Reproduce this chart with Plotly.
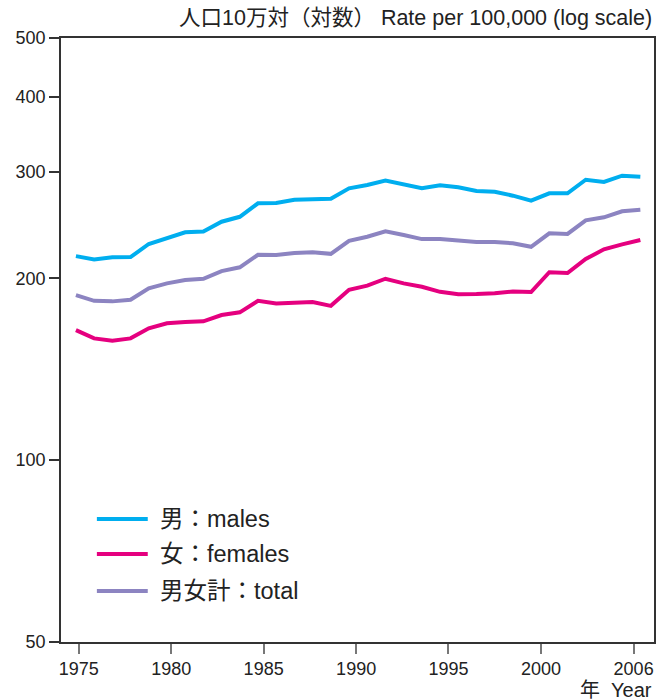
import plotly.graph_objects as go

years = list(range(1975, 2007))

males = [217.7, 215.0, 216.7, 216.9, 228.0, 233.0, 238.4, 239.2, 248.2, 252.9,
         266.2, 266.5, 269.9, 270.3, 270.9, 281.9, 285.5, 290.3, 286.3, 281.9,
         285.2, 283.0, 279.1, 278.3, 274.1, 268.9, 276.6, 276.6, 291.3, 288.8,
         295.8, 294.7]

females = [164.2, 159.1, 157.6, 159.1, 165.3, 168.5, 169.4, 169.8, 173.9, 175.7,
           183.6, 181.8, 182.2, 182.7, 180.1, 191.5, 194.5, 199.7, 196.2, 193.7,
           190.0, 188.2, 188.4, 188.9, 190.3, 189.8, 204.7, 204.1, 215.3, 223.4,
           227.7, 231.5]

total = [187.6, 183.6, 183.2, 184.3, 192.5, 196.2, 198.7, 199.7, 205.6, 208.6,
         218.8, 218.6, 220.3, 220.9, 219.6, 230.8, 234.4, 239.2, 235.9, 232.3,
         232.3, 230.8, 229.7, 229.7, 228.6, 225.6, 237.5, 236.9, 249.5, 252.4,
         258.3, 259.8]

series_names = ["男：males", "女：females", "男女計：total"]
series_colors = ["#00AEEF", "#E5007F", "#8C84C1"]

x_tick_labels = ["1975", "1980", "1985", "1990", "1995", "2000", "2006"]
x_tick_positions = [1975.16, 1980.24, 1985.31, 1990.39, 1995.46, 2000.54, 2005.63]
y_tick_values = [50, 100, 200, 300, 400, 500]

FONT = "Liberation Sans, Arial, Noto Sans CJK JP, sans-serif"

fig = go.Figure()
for name, vals, col in zip(series_names, [males, females, total], series_colors):
    fig.add_trace(go.Scatter(x=years, y=vals, mode="lines", name=name,
                             line=dict(color=col, width=4), showlegend=False))

# manual legend
leg_y = [0.2036, 0.1457, 0.0844]
for name, col, yy in zip(series_names, series_colors, leg_y):
    fig.add_shape(type="line", xref="paper", yref="paper",
                  x0=0.0605, x1=0.1463, y0=yy, y1=yy,
                  line=dict(color=col, width=4))
    fig.add_annotation(xref="paper", yref="paper", x=0.163, y=yy,
                       xanchor="left", yanchor="middle", text=name,
                       showarrow=False, font=dict(size=23.5, color="#222", family=FONT))

fig.add_annotation(xref="paper", yref="paper", x=1.0, y=1.033,
                   xanchor="right", yanchor="middle",
                   text="人口10万対（対数） Rate per 100,000 (log scale)",
                   showarrow=False, font=dict(size=21.5, color="#222", family=FONT))
fig.add_annotation(xref="paper", yref="paper", x=1.0, y=-0.0795,
                   xanchor="right", yanchor="middle",
                   text="年  Year",
                   showarrow=False, font=dict(size=20, color="#222", family=FONT))

fig.update_layout(
    width=658, height=700,
    margin=dict(l=61, r=2, t=38, b=58),
    paper_bgcolor="white", plot_bgcolor="white",
    font=dict(family=FONT, size=18, color="#222"),
    showlegend=False,
)
fig.update_xaxes(range=[1974.18, 2006.75], tickvals=x_tick_positions,
                 ticktext=x_tick_labels, ticks="outside", ticklen=10,
                 tickcolor="#777", tickwidth=1.5, showline=True, linecolor="#333",
                 linewidth=1.5, mirror=True, showgrid=False, zeroline=False,
                 tickfont=dict(size=18))
fig.update_yaxes(type="log", range=[1.69897, 2.69897], tickvals=y_tick_values,
                 ticktext=[str(v) for v in y_tick_values], ticks="outside",
                 ticklen=10, tickcolor="#333", tickwidth=1.5, showline=True,
                 linecolor="#333", linewidth=1.5, mirror=True, showgrid=False,
                 zeroline=False, tickfont=dict(size=18))

fig.write_html("out.html", config={"displayModeBar": False},
               post_script="document.body.style.margin='0';document.body.style.overflow='hidden';")
